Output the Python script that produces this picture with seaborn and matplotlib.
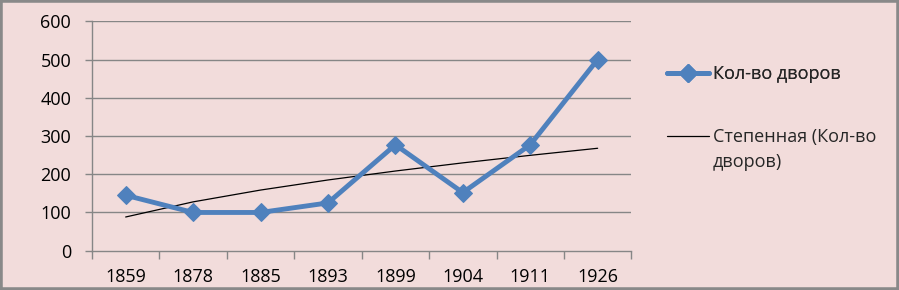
import numpy as np
import pandas as pd
import seaborn as sns
import matplotlib
matplotlib.use("Agg")
import matplotlib.pyplot as plt
from matplotlib.lines import Line2D
from matplotlib.patches import Rectangle

years = ["1859", "1878", "1885", "1893", "1899", "1904", "1911", "1926"]
households = [145, 100, 100, 125, 277, 152, 277, 500]
series_label = "Кол-во дворов"
trend_label_lines = ["Степенная (Кол-во", "дворов)"]
y_ticks = [0, 100, 200, 300, 400, 500, 600]

sns.set_theme(style="white")
plt.rcParams["font.family"] = ["Open Sans", "DejaVu Sans"]

BG = "#F2DCDB"
GRID = "#868686"
BLUE = "#4F81BD"
FS = 13

df = pd.DataFrame({"year": years, "value": households})
df["pos"] = np.arange(len(years))

# power trendline (Excel-style least squares on log-log)
lx = np.log(df["pos"] + 1)
ly = np.log(df["value"])
b, lna = np.polyfit(lx, ly, 1)
df["trend"] = np.exp(lna) * (df["pos"] + 1) ** b

fig = plt.figure(figsize=(8.99, 2.90), dpi=100, facecolor=BG)
ax = fig.add_axes([0.1023, 0.1355, 0.6000, 0.7911])
ax.set_facecolor(BG)

sns.lineplot(data=df, x="pos", y="trend", ax=ax, color="black", lw=0.9, legend=False)
sns.lineplot(data=df, x="pos", y="value", ax=ax, color=BLUE, lw=3.5,
             marker="D", markersize=9.5, markeredgecolor=BLUE, legend=False)

ax.set_xlim(-0.5, len(years) - 0.5)
ax.set_ylim(0, 600)
ax.set_yticks(y_ticks)
ax.set_yticklabels([str(t) for t in y_ticks])
ax.set_xticks(df["pos"])
ax.set_xticklabels(years)
ax.set_xticks(np.arange(-0.5, len(years)), minor=True)
ax.set_xlabel("")
ax.set_ylabel("")

for t in y_ticks[1:]:
    ax.axhline(t, color=GRID, lw=1.0, zorder=0)

for s in ["top", "right"]:
    ax.spines[s].set_visible(False)
for s in ["left", "bottom"]:
    ax.spines[s].set_color(GRID)
    ax.spines[s].set_linewidth(1.0)

ax.tick_params(axis="x", which="major", length=0, pad=12.5, labelsize=FS, colors="black")
ax.tick_params(axis="x", which="minor", length=5.5, width=1.0, color=GRID, direction="out", bottom=True)
ax.tick_params(axis="y", length=5, width=1.0, color=GRID, direction="out", left=True,
               pad=10, labelsize=FS, labelcolor="black")

h1 = Line2D([], [], color=BLUE, lw=3.5, marker="D", markersize=9.5, markeredgecolor=BLUE)
h2 = Line2D([], [], color="black", lw=0.9)
h3 = Line2D([], [], color="none", lw=0)
leg1 = fig.legend([h1], [series_label], loc="center left", bbox_to_anchor=(0.742, 0.745),
                  frameon=False, fontsize=FS, handlelength=2.35, handletextpad=0.17,
                  borderpad=0, borderaxespad=0)
fig.add_artist(leg1)
leg2 = fig.legend([h2, h3], trend_label_lines,
                  loc="upper left", bbox_to_anchor=(0.742, 0.559),
                  frameon=False, fontsize=FS, handlelength=2.35, handletextpad=0.17,
                  labelspacing=0.39, borderpad=0, borderaxespad=0)

fig.add_artist(Rectangle((0, 0), 1, 1, transform=fig.transFigure, fill=False,
                         edgecolor="#898989", lw=4, clip_on=False))

fig.savefig("out.png", dpi=100, facecolor=BG)
